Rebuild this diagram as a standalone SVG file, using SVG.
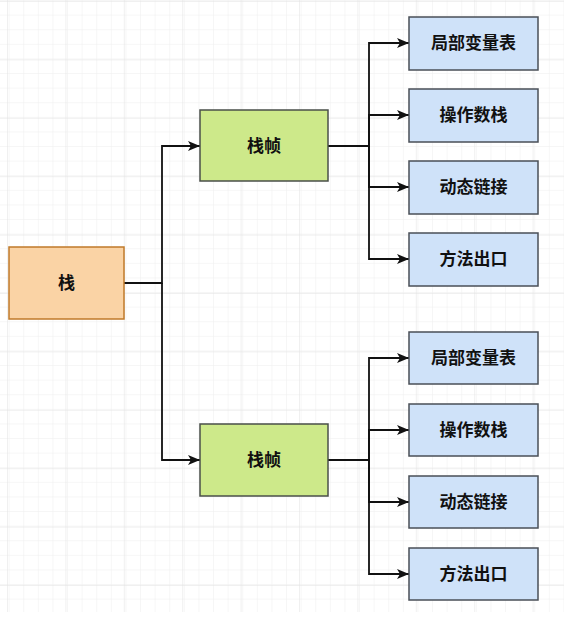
<svg xmlns="http://www.w3.org/2000/svg" width="564" height="626" viewBox="0 0 564 626">
<defs>
<pattern id="minor" width="14.6" height="14.6" patternUnits="userSpaceOnUse" x="-5" y="1">
<path d="M14.6 0V14.6M0 14.6H14.6" fill="none" stroke="#eeeeee" stroke-width="1"/>
</pattern>
<pattern id="major" width="58.4" height="58.4" patternUnits="userSpaceOnUse" x="8" y="2">
<path d="M58.4 0V58.4M0 58.4H58.4" fill="none" stroke="#e2e2e2" stroke-width="1"/>
</pattern>
<marker id="arr" markerWidth="12" markerHeight="10" refX="12" refY="5" orient="auto" markerUnits="userSpaceOnUse">
<path d="M0,0 L12,5 L0,10 L3,5 Z" fill="#111"/>
</marker>
<style>
.t{font-family:"Liberation Sans","Noto Sans CJK SC",sans-serif;font-weight:bold;font-size:17px;fill:#111;text-anchor:middle;dominant-baseline:central}
.c{fill:none;stroke:#111;stroke-width:1.8}
.blue{fill:#cfe2f9;stroke:#4a4f57;stroke-width:1.5}
.green{fill:#cde98a;stroke:#4a4f4a;stroke-width:1.5}
.orange{fill:#fad3a5;stroke:#c07a2a;stroke-width:1.5}
</style>
</defs>
<rect width="564" height="626" fill="#ffffff"/>
<rect width="564" height="612" fill="url(#minor)"/>
<rect width="564" height="612" fill="url(#major)"/>
<g id="connectors">
<path class="c" d="M124,283 H162 V146 H200" marker-end="url(#arr)"/>
<path class="c" d="M162,283 V460 H200" marker-end="url(#arr)"/>
<path class="c" d="M328,146 H369 V43 H409" marker-end="url(#arr)"/>
<path class="c" d="M369,146 V115 H409" marker-end="url(#arr)"/>
<path class="c" d="M369,146 V187 H409" marker-end="url(#arr)"/>
<path class="c" d="M369,146 V259 H409" marker-end="url(#arr)"/>
<path class="c" d="M328,460 H369 V358 H409" marker-end="url(#arr)"/>
<path class="c" d="M369,460 V430 H409" marker-end="url(#arr)"/>
<path class="c" d="M369,460 V502 H409" marker-end="url(#arr)"/>
<path class="c" d="M369,460 V574 H409" marker-end="url(#arr)"/>
</g>
<g id="stack"><rect class="orange" x="9" y="247" width="115" height="72"/><text class="t" x="66.5" y="283">栈</text></g>
<g id="frame1"><rect class="green" x="200" y="110" width="128" height="71"/><text class="t" x="264" y="146">栈帧</text></g>
<g id="frame2"><rect class="green" x="200" y="424" width="128" height="72"/><text class="t" x="264" y="460">栈帧</text></g>
<g id="f1-locals"><rect class="blue" x="409" y="17" width="129" height="53"/><text class="t" x="473.5" y="43.5">局部变量表</text></g>
<g id="f1-operand"><rect class="blue" x="409" y="89" width="129" height="53"/><text class="t" x="473.5" y="115.5">操作数栈</text></g>
<g id="f1-dynlink"><rect class="blue" x="409" y="161" width="129" height="53"/><text class="t" x="473.5" y="187.5">动态链接</text></g>
<g id="f1-return"><rect class="blue" x="409" y="233" width="129" height="53"/><text class="t" x="473.5" y="259.5">方法出口</text></g>
<g id="f2-locals"><rect class="blue" x="409" y="332" width="129" height="52"/><text class="t" x="473.5" y="358">局部变量表</text></g>
<g id="f2-operand"><rect class="blue" x="409" y="404" width="129" height="52"/><text class="t" x="473.5" y="430">操作数栈</text></g>
<g id="f2-dynlink"><rect class="blue" x="409" y="476" width="129" height="52"/><text class="t" x="473.5" y="502">动态链接</text></g>
<g id="f2-return"><rect class="blue" x="409" y="548" width="129" height="52"/><text class="t" x="473.5" y="574">方法出口</text></g>
</svg>
